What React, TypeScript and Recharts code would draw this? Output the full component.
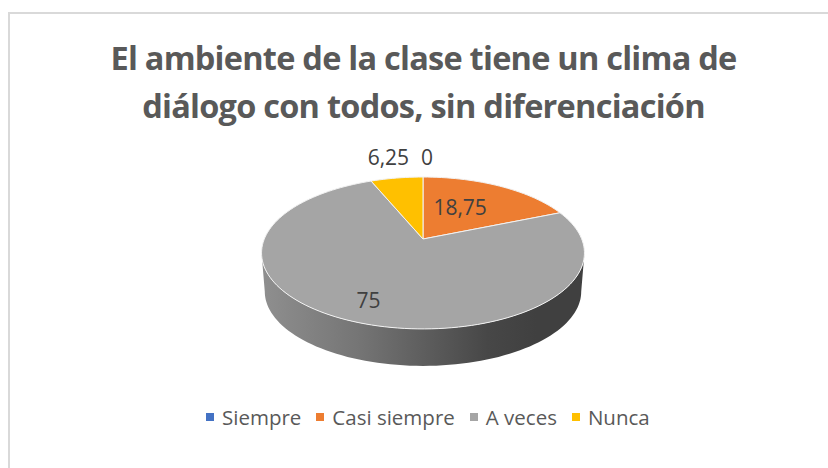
import { Cell, Legend, Pie, PieChart } from "recharts";

const categories = ["Siempre", "Casi siempre", "A veces", "Nunca"];
const values = [0, 18.75, 75, 6.25];
const colors = ["#4472c4", "#ed7d31", "#a5a5a5", "#ffc000"];

const titleLines = [
  "El ambiente de la clase tiene un clima de",
  "diálogo con todos, sin diferenciación",
];

const tableData = categories.map((name, i) => ({ name, value: values[i] }));

// label placement: fraction of the radius, then a small nudge in px
const labelPlace = [
  { f: 1.4, dx: 4, dy: 0 },
  { f: 0.45, dx: 0, dy: -6 },
  { f: 0.78, dx: 0, dy: 0 },
  { f: 1.4, dx: 0, dy: -2 },
];

const CX = 423;
const CY = 239;
const RADIUS = 158.7;
const DEPTH = 38.5;
const ELLIPSE_CY = 253;
const SHRINK = 0.98;

// perspective of the tilted disc, the apex sits above the middle of the ellipse
const TILT_C = 0.184;
const TILT_A = -29.4;

function project(cx: number, cy: number, r: number, deg: number) {
  const t = (deg * Math.PI) / 180;
  const sx = r * Math.sin(t);
  const ty = (r * Math.cos(t)) / RADIUS;
  const den = 1 + TILT_C * ty;
  return { x: cx + sx / den, y: (TILT_A * ty + cy) / den };
}

function lower(p: { x: number; y: number }, cx: number) {
  return {
    x: cx + (p.x - cx) * SHRINK,
    y: ELLIPSE_CY + (p.y - ELLIPSE_CY) * SHRINK + DEPTH,
  };
}

function arcPoints(cx: number, cy: number, r: number, from: number, to: number) {
  const pts = [];
  const steps = Math.max(2, Math.ceil(Math.abs(to - from) / 2));
  for (let i = 0; i <= steps; i++) {
    pts.push(project(cx, cy, r, from + ((to - from) * i) / steps));
  }
  return pts;
}

const toPath = (pts: { x: number; y: number }[]) =>
  pts.map((p, i) => `${i ? "L" : "M"}${p.x.toFixed(2)} ${p.y.toFixed(2)}`).join(" ");

function DiscSlice(props: any) {
  const { cx, cy, outerRadius, startAngle, endAngle, fill } = props;
  if (startAngle === endAngle) return null;
  const from = 90 - startAngle;
  const to = 90 - endAngle;
  const top = arcPoints(cx, cy, outerRadius, from, to);

  // only the part of the rim facing the viewer has a wall
  const wallFrom = Math.max(from, 100.6);
  const wallTo = Math.min(to, 259.4);
  let wall = null;
  if (wallTo > wallFrom) {
    const edge = arcPoints(cx, cy, outerRadius, wallFrom, wallTo);
    const base = edge.map((p) => lower(p, cx)).reverse();
    wall = <path d={toPath(edge.concat(base)) + " Z"} fill="url(#wallShade)" />;
  }

  return (
    <g>
      {wall}
      <path
        d={`M${cx} ${cy} ` + toPath(top).replace("M", "L") + " Z"}
        fill={fill}
        stroke="#f2f2f2"
        strokeWidth={1}
        strokeLinejoin="round"
      />
    </g>
  );
}

function SliceLabel(props: any) {
  const { cx, cy, outerRadius, midAngle, index, value } = props;
  const place = labelPlace[index];
  const p = project(cx, cy, outerRadius * place.f, 90 - midAngle);
  return (
    <text
      x={p.x + place.dx}
      y={p.y + place.dy}
      textAnchor="middle"
      dominantBaseline="central"
      fontFamily="'Open Sans', sans-serif"
      fontSize={21}
      fill="#404040"
    >
      {String(value).replace(".", ",")}
    </text>
  );
}

function LegendRow({ payload }: any) {
  return (
    <div style={{ display: "flex", alignItems: "center", fontFamily: "'Open Sans', sans-serif", fontSize: 20.5, color: "#595959" }}>
      {(payload || []).map((item: any) => (
        <span key={item.value} style={{ display: "flex", alignItems: "center", marginRight: 15 }}>
          <span style={{ width: 8, height: 8, background: item.color, marginRight: 8 }} />
          {item.value}
        </span>
      ))}
    </div>
  );
}

export default function App() {
  return (
    <div style={{ position: "absolute", left: 0, top: 0, width: 828, height: 468, overflow: "hidden", background: "#fff" }}>
      <div style={{ position: "absolute", left: 8, top: 12, right: -4, bottom: -4, borderLeft: "2px solid #d9d9d9", borderTop: "2px solid #d9d9d9" }} />
      <div
        style={{
          position: "absolute",
          left: 0,
          top: 34,
          width: 847,
          textAlign: "center",
          fontFamily: "'Open Sans', sans-serif",
          fontWeight: 700,
          fontSize: 32.5,
          letterSpacing: -0.75,
          lineHeight: "48px",
          color: "#595959",
        }}
      >
        {titleLines.map((line) => (
          <div key={line}>{line}</div>
        ))}
      </div>
      <PieChart width={828} height={468} margin={{ top: 0, right: 0, bottom: 0, left: 0 }} style={{ position: "absolute", left: 0, top: 0 }}>
        <defs>
          <linearGradient id="wallShade" x1="0" y1="0" x2="1" y2="0">
            <stop offset="0%" stopColor="#8f8f8f" />
            <stop offset="30%" stopColor="#757575" />
            <stop offset="70%" stopColor="#474747" />
            <stop offset="85%" stopColor="#404040" />
            <stop offset="100%" stopColor="#404040" />
          </linearGradient>
        </defs>
        <Pie
          data={tableData}
          dataKey="value"
          nameKey="name"
          cx={CX}
          cy={CY}
          outerRadius={RADIUS}
          startAngle={90}
          endAngle={-270}
          shape={DiscSlice}
          label={SliceLabel}
          labelLine={false}
          isAnimationActive={false}
        >
          {categories.map((name, i) => (
            <Cell key={name} fill={colors[i]} />
          ))}
        </Pie>
        <Legend
          content={LegendRow}
          itemSorter={null}
          wrapperStyle={{ position: "absolute", left: 206, top: 403, width: 600, height: 30 }}
        />
      </PieChart>
    </div>
  );
}
